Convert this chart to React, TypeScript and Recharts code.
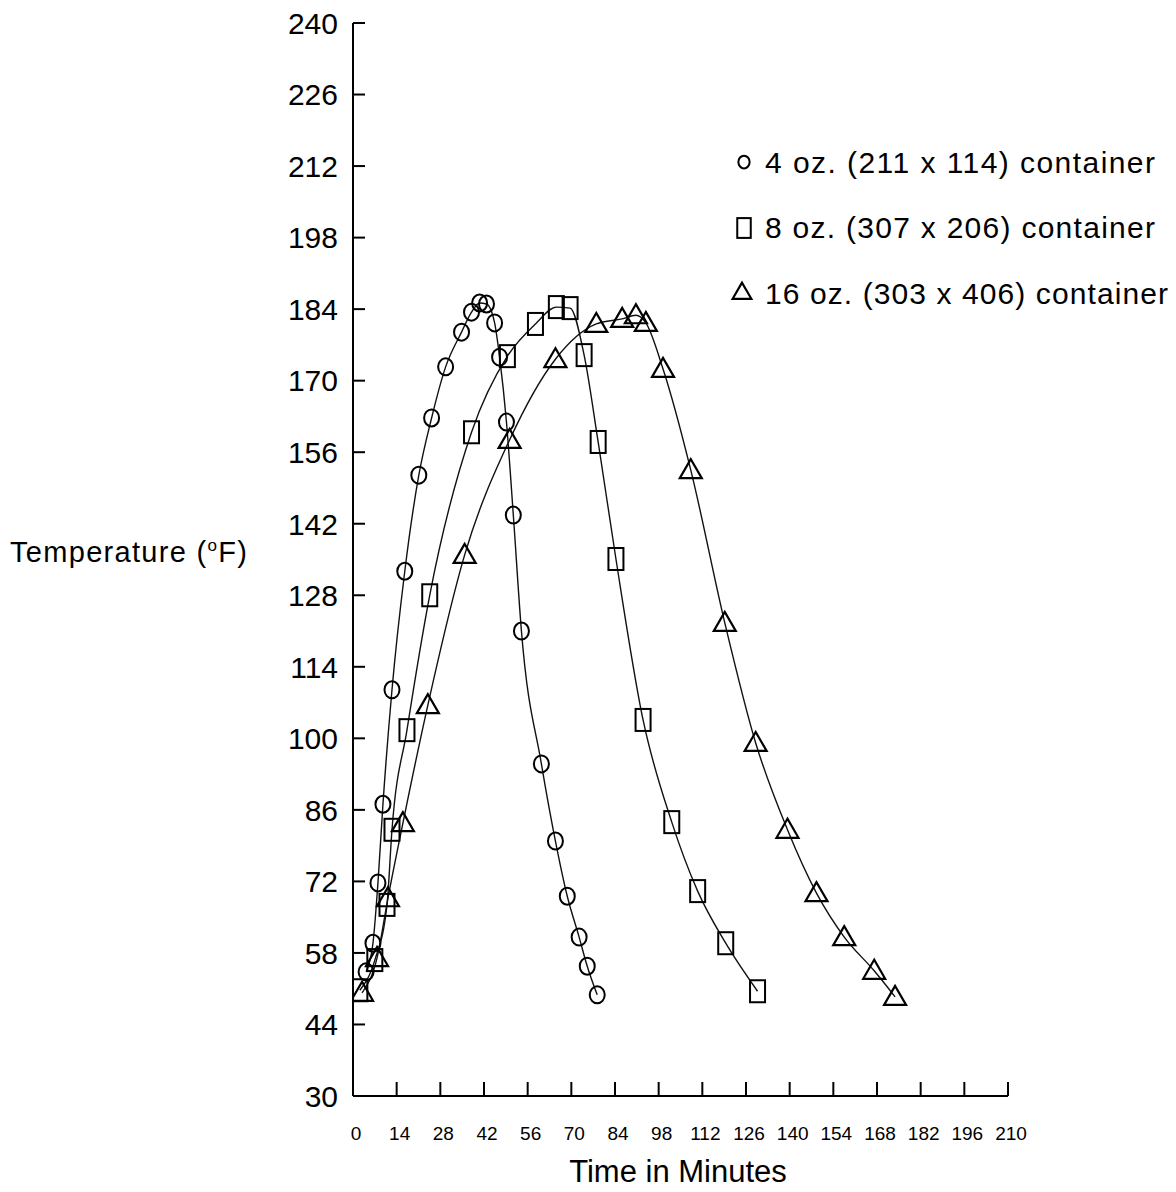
import React from "react"
import { ComposedChart, Line, XAxis, YAxis, Legend } from "recharts"

const FONT = "'Liberation Sans', Arial, Helvetica, sans-serif"

const xTicks = [0, 14, 28, 42, 56, 70, 84, 98, 112, 126, 140, 154, 168, 182, 196, 210]
const yTicks = [30, 44, 58, 72, 86, 100, 114, 128, 142, 156, 170, 184, 198, 212, 226, 240]

// 4 oz. (211 x 114)
const fourOzTime = [4.2, 6.4, 8.0, 9.6, 12.5, 16.6, 21.1, 25.2, 29.7, 34.8, 38.0, 40.6, 42.8, 45.4, 47.0, 49.2, 51.4, 54.0, 60.4, 64.9, 68.7, 72.5, 75.1, 78.3]
const fourOzTemp = [54.3, 59.9, 71.7, 87.1, 109.5, 132.7, 151.5, 162.7, 172.7, 179.5, 183.4, 185.2, 185.0, 181.3, 174.6, 161.9, 143.7, 121.0, 95.0, 79.9, 69.1, 61.1, 55.4, 49.8]

// 8 oz. (307 x 206)
const eightOzTime = [2.2, 7.0, 10.9, 12.5, 17.3, 24.6, 38.0, 49.5, 58.5, 65.2, 69.6, 74.1, 78.6, 84.3, 93.0, 102.2, 110.5, 119.5, 129.7]
const eightOzTemp = [50.7, 56.6, 67.4, 82.1, 101.6, 128.0, 159.9, 174.8, 181.1, 184.4, 184.2, 175.0, 158.0, 135.1, 103.6, 83.6, 70.1, 59.9, 50.5]

// 16 oz. (303 x 406)
const sixteenOzTime = [2.9, 7.7, 11.2, 16.0, 24.0, 35.8, 50.2, 64.9, 78.0, 86.3, 90.7, 93.9, 99.4, 108.3, 119.2, 129.1, 139.3, 148.6, 157.5, 167.1, 173.8]
const sixteenOzTemp = [50.2, 57.0, 68.7, 83.4, 106.5, 135.9, 158.4, 174.2, 181.1, 182.1, 182.8, 181.3, 172.3, 152.5, 122.6, 99.1, 82.1, 69.7, 61.1, 54.5, 49.4]

const seriesNames = [
  "4 oz. (211 x 114) container",
  "8 oz. (307 x 206) container",
  "16 oz. (303 x 406) container",
]

const zip = (ts: number[], vs: number[]) => ts.map((t, i) => ({ t, v: vs[i] }))

const fourOz = zip(fourOzTime, fourOzTemp)
const eightOz = zip(eightOzTime, eightOzTemp)
const sixteenOz = zip(sixteenOzTime, sixteenOzTemp)

function CircleMark({ cx, cy, r = 1 }: any) {
  return <ellipse cx={cx} cy={cy} rx={7.5 * r} ry={8.5 * r} fill="none" stroke="#000" strokeWidth={2} />
}

function SquareMark({ cx, cy, r = 1 }: any) {
  const w = 15 * r
  const h = 22 * r
  return <rect x={cx - w / 2} y={cy - h / 2} width={w} height={h} fill="none" stroke="#000" strokeWidth={2} />
}

function TriangleMark({ cx, cy, r = 1 }: any) {
  const pts = `${cx},${cy - 11 * r} ${cx - 11 * r},${cy + 8 * r} ${cx + 11 * r},${cy + 8 * r}`
  return <polygon points={pts} fill="none" stroke="#000" strokeWidth={2.2} strokeLinejoin="miter" />
}

function XTick({ x, y, payload }: any) {
  return (
    <g>
      <line x1={x} y1={y} x2={x} y2={y - 14} stroke="#000" strokeWidth={2} />
      <text x={x + 3} y={y + 44} textAnchor="middle" fontSize={19} fontFamily={FONT} fill="#000">
        {payload.value}
      </text>
    </g>
  )
}

function YTick({ x, y, payload }: any) {
  return (
    <g>
      <line x1={x} y1={y} x2={x + 12} y2={y} stroke="#000" strokeWidth={2} />
      <text x={x - 15} y={y} dy="0.36em" textAnchor="end" fontSize={30} fontFamily={FONT} fill="#000">
        {payload.value}
      </text>
    </g>
  )
}

// legend drawn as its own little svg, placed over the chart
const renderLegend = () => {
  const marks = [CircleMark, SquareMark, TriangleMark]
  const symY = [22, 88, 152]
  const baseY = [33, 98, 164]
  const widths = [390, 390, 403]
  return (
    <svg width={451} height={180}>
      {seriesNames.map((name, i) => {
        const Mark = marks[i]
        return (
          <g key={name}>
            <Mark cx={i === 2 ? 17 : 19} cy={symY[i]} r={i === 0 ? 0.75 : i === 1 ? 0.9 : 0.85} />
            <text x={40} y={baseY[i]} fontSize={30} fontFamily={FONT} fill="#000" textLength={widths[i]} lengthAdjust="spacing">
              {name}
            </text>
          </g>
        )
      })}
    </svg>
  )
}

export default function App() {
  return (
    <div style={{ position: "absolute", left: 0, top: 0, width: 1176, height: 1192, background: "#fff" }}>
      <ComposedChart width={1176} height={1192} margin={{ top: 23, right: 168, bottom: 0, left: 0 }}>
        <XAxis
          type="number"
          dataKey="t"
          domain={[0, 210]}
          ticks={xTicks}
          interval={0}
          height={96}
          tickSize={0}
          tickMargin={0}
          tickLine={false}
          axisLine={{ stroke: "#000", strokeWidth: 2 }}
          tick={<XTick />}
          allowDataOverflow
          label={() => (
            <text x={678} y={1182} textAnchor="middle" fontSize={31} fontFamily={FONT} fill="#000">
              Time in Minutes
            </text>
          )}
        />
        <YAxis
          type="number"
          dataKey="v"
          domain={[30, 240]}
          ticks={yTicks}
          interval={0}
          width={353}
          tickSize={0}
          tickMargin={0}
          tickLine={false}
          axisLine={{ stroke: "#000", strokeWidth: 2 }}
          tick={<YTick />}
          allowDataOverflow
          label={() => (
            <text x={10} y={562} fontSize={29} fontFamily={FONT} fill="#000" textLength={237} lengthAdjust="spacing">
              Temperature (<tspan fontSize={17} dy={-11}>o</tspan>
              <tspan dy={11}>F)</tspan>
            </text>
          )}
        />
        <Legend
          verticalAlign="middle"
          align="center"
          layout="horizontal"
          wrapperStyle={{ position: "absolute", left: 725, top: 140, width: 451, height: 180 }}
          content={renderLegend}
        />
        <Line
          data={fourOz}
          dataKey="v"
          name={seriesNames[0]}
          type="monotone"
          stroke="#111"
          strokeWidth={1.4}
          dot={(p: any) => <CircleMark key={`c${p.index}`} cx={p.cx} cy={p.cy} />}
          activeDot={false}
          isAnimationActive={false}
        />
        <Line
          data={eightOz}
          dataKey="v"
          name={seriesNames[1]}
          type="monotone"
          stroke="#111"
          strokeWidth={1.4}
          dot={(p: any) => <SquareMark key={`s${p.index}`} cx={p.cx} cy={p.cy} />}
          activeDot={false}
          isAnimationActive={false}
        />
        <Line
          data={sixteenOz}
          dataKey="v"
          name={seriesNames[2]}
          type="monotone"
          stroke="#111"
          strokeWidth={1.4}
          dot={(p: any) => <TriangleMark key={`tr${p.index}`} cx={p.cx} cy={p.cy} />}
          activeDot={false}
          isAnimationActive={false}
        />
      </ComposedChart>
    </div>
  )
}
